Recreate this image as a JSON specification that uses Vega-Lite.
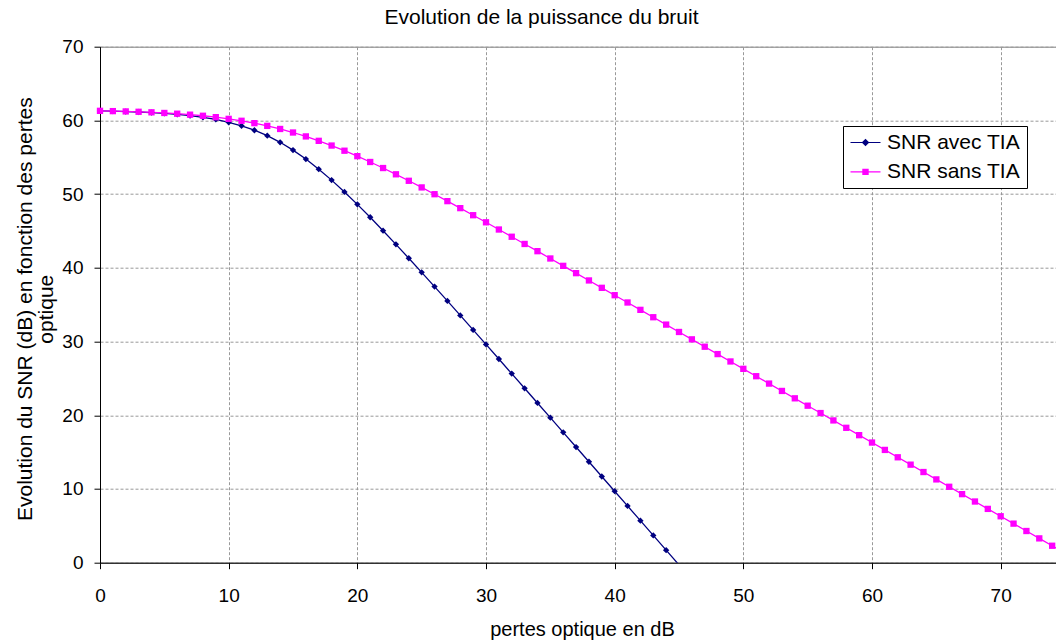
{
  "$schema": "https://vega.github.io/schema/vega-lite/v6.json",
  "width": 956,
  "height": 516,
  "autosize": {"type": "none"},
  "padding": {"left": 100, "top": 46.7, "right": 0, "bottom": 78.3},
  "background": "white",
  "title": {
    "text": "Evolution de la puissance du bruit",
    "anchor": "middle",
    "dx": -36.5,
    "offset": -7,
    "baseline": "alphabetic",
    "font": "Liberation Sans",
    "fontSize": 21,
    "fontWeight": "normal",
    "color": "black"
  },
  "config": {
    "view": {"stroke": "#808080", "strokeWidth": 1},
    "axis": {
      "domainColor": "black",
      "domainWidth": 1,
      "tickColor": "black",
      "tickWidth": 1,
      "tickSize": 6,
      "gridColor": "#999999",
      "gridDash": [3, 2],
      "gridWidth": 1,
      "labelColor": "black",
      "labelFont": "Liberation Sans",
      "labelFontSize": 19,
      "labelFlush": false,
      "labelOverlap": false,
      "titleColor": "black",
      "titleFont": "Liberation Sans",
      "titleFontWeight": "normal"
    }
  },
  "data": {
    "values": [
      {"serie": "SNR avec TIA", "pertes": 0, "snr": 61.29},
      {"serie": "SNR avec TIA", "pertes": 1, "snr": 61.25},
      {"serie": "SNR avec TIA", "pertes": 2, "snr": 61.2},
      {"serie": "SNR avec TIA", "pertes": 3, "snr": 61.14},
      {"serie": "SNR avec TIA", "pertes": 4, "snr": 61.06},
      {"serie": "SNR avec TIA", "pertes": 5, "snr": 60.95},
      {"serie": "SNR avec TIA", "pertes": 6, "snr": 60.82},
      {"serie": "SNR avec TIA", "pertes": 7, "snr": 60.64},
      {"serie": "SNR avec TIA", "pertes": 8, "snr": 60.42},
      {"serie": "SNR avec TIA", "pertes": 9, "snr": 60.13},
      {"serie": "SNR avec TIA", "pertes": 10, "snr": 59.75},
      {"serie": "SNR avec TIA", "pertes": 11, "snr": 59.27},
      {"serie": "SNR avec TIA", "pertes": 12, "snr": 58.67},
      {"serie": "SNR avec TIA", "pertes": 13, "snr": 57.93},
      {"serie": "SNR avec TIA", "pertes": 14, "snr": 57.03},
      {"serie": "SNR avec TIA", "pertes": 15, "snr": 55.97},
      {"serie": "SNR avec TIA", "pertes": 16, "snr": 54.76},
      {"serie": "SNR avec TIA", "pertes": 17, "snr": 53.39},
      {"serie": "SNR avec TIA", "pertes": 18, "snr": 51.9},
      {"serie": "SNR avec TIA", "pertes": 19, "snr": 50.3},
      {"serie": "SNR avec TIA", "pertes": 20, "snr": 48.61},
      {"serie": "SNR avec TIA", "pertes": 21, "snr": 46.86},
      {"serie": "SNR avec TIA", "pertes": 22, "snr": 45.04},
      {"serie": "SNR avec TIA", "pertes": 23, "snr": 43.19},
      {"serie": "SNR avec TIA", "pertes": 24, "snr": 41.3},
      {"serie": "SNR avec TIA", "pertes": 25, "snr": 39.39},
      {"serie": "SNR avec TIA", "pertes": 26, "snr": 37.46},
      {"serie": "SNR avec TIA", "pertes": 27, "snr": 35.51},
      {"serie": "SNR avec TIA", "pertes": 28, "snr": 33.55},
      {"serie": "SNR avec TIA", "pertes": 29, "snr": 31.58},
      {"serie": "SNR avec TIA", "pertes": 30, "snr": 29.61},
      {"serie": "SNR avec TIA", "pertes": 31, "snr": 27.63},
      {"serie": "SNR avec TIA", "pertes": 32, "snr": 25.65},
      {"serie": "SNR avec TIA", "pertes": 33, "snr": 23.66},
      {"serie": "SNR avec TIA", "pertes": 34, "snr": 21.67},
      {"serie": "SNR avec TIA", "pertes": 35, "snr": 19.68},
      {"serie": "SNR avec TIA", "pertes": 36, "snr": 17.68},
      {"serie": "SNR avec TIA", "pertes": 37, "snr": 15.69},
      {"serie": "SNR avec TIA", "pertes": 38, "snr": 13.69},
      {"serie": "SNR avec TIA", "pertes": 39, "snr": 11.69},
      {"serie": "SNR avec TIA", "pertes": 40, "snr": 9.7},
      {"serie": "SNR avec TIA", "pertes": 41, "snr": 7.7},
      {"serie": "SNR avec TIA", "pertes": 42, "snr": 5.7},
      {"serie": "SNR avec TIA", "pertes": 43, "snr": 3.7},
      {"serie": "SNR avec TIA", "pertes": 44, "snr": 1.7},
      {"serie": "SNR avec TIA", "pertes": 45, "snr": -0.3},
      {"serie": "SNR sans TIA", "pertes": 0, "snr": 61.3},
      {"serie": "SNR sans TIA", "pertes": 1, "snr": 61.26},
      {"serie": "SNR sans TIA", "pertes": 2, "snr": 61.22},
      {"serie": "SNR sans TIA", "pertes": 3, "snr": 61.17},
      {"serie": "SNR sans TIA", "pertes": 4, "snr": 61.1},
      {"serie": "SNR sans TIA", "pertes": 5, "snr": 61.01},
      {"serie": "SNR sans TIA", "pertes": 6, "snr": 60.91},
      {"serie": "SNR sans TIA", "pertes": 7, "snr": 60.78},
      {"serie": "SNR sans TIA", "pertes": 8, "snr": 60.63},
      {"serie": "SNR sans TIA", "pertes": 9, "snr": 60.44},
      {"serie": "SNR sans TIA", "pertes": 10, "snr": 60.21},
      {"serie": "SNR sans TIA", "pertes": 11, "snr": 59.95},
      {"serie": "SNR sans TIA", "pertes": 12, "snr": 59.63},
      {"serie": "SNR sans TIA", "pertes": 13, "snr": 59.26},
      {"serie": "SNR sans TIA", "pertes": 14, "snr": 58.84},
      {"serie": "SNR sans TIA", "pertes": 15, "snr": 58.36},
      {"serie": "SNR sans TIA", "pertes": 16, "snr": 57.83},
      {"serie": "SNR sans TIA", "pertes": 17, "snr": 57.23},
      {"serie": "SNR sans TIA", "pertes": 18, "snr": 56.59},
      {"serie": "SNR sans TIA", "pertes": 19, "snr": 55.89},
      {"serie": "SNR sans TIA", "pertes": 20, "snr": 55.15},
      {"serie": "SNR sans TIA", "pertes": 21, "snr": 54.36},
      {"serie": "SNR sans TIA", "pertes": 22, "snr": 53.54},
      {"serie": "SNR sans TIA", "pertes": 23, "snr": 52.69},
      {"serie": "SNR sans TIA", "pertes": 24, "snr": 51.81},
      {"serie": "SNR sans TIA", "pertes": 25, "snr": 50.91},
      {"serie": "SNR sans TIA", "pertes": 26, "snr": 49.99},
      {"serie": "SNR sans TIA", "pertes": 27, "snr": 49.05},
      {"serie": "SNR sans TIA", "pertes": 28, "snr": 48.1},
      {"serie": "SNR sans TIA", "pertes": 29, "snr": 47.14},
      {"serie": "SNR sans TIA", "pertes": 30, "snr": 46.18},
      {"serie": "SNR sans TIA", "pertes": 31, "snr": 45.2},
      {"serie": "SNR sans TIA", "pertes": 32, "snr": 44.22},
      {"serie": "SNR sans TIA", "pertes": 33, "snr": 43.24},
      {"serie": "SNR sans TIA", "pertes": 34, "snr": 42.26},
      {"serie": "SNR sans TIA", "pertes": 35, "snr": 41.27},
      {"serie": "SNR sans TIA", "pertes": 36, "snr": 40.27},
      {"serie": "SNR sans TIA", "pertes": 37, "snr": 39.28},
      {"serie": "SNR sans TIA", "pertes": 38, "snr": 38.29},
      {"serie": "SNR sans TIA", "pertes": 39, "snr": 37.29},
      {"serie": "SNR sans TIA", "pertes": 40, "snr": 36.29},
      {"serie": "SNR sans TIA", "pertes": 41, "snr": 35.3},
      {"serie": "SNR sans TIA", "pertes": 42, "snr": 34.3},
      {"serie": "SNR sans TIA", "pertes": 43, "snr": 33.3},
      {"serie": "SNR sans TIA", "pertes": 44, "snr": 32.3},
      {"serie": "SNR sans TIA", "pertes": 45, "snr": 31.3},
      {"serie": "SNR sans TIA", "pertes": 46, "snr": 30.3},
      {"serie": "SNR sans TIA", "pertes": 47, "snr": 29.3},
      {"serie": "SNR sans TIA", "pertes": 48, "snr": 28.3},
      {"serie": "SNR sans TIA", "pertes": 49, "snr": 27.3},
      {"serie": "SNR sans TIA", "pertes": 50, "snr": 26.3},
      {"serie": "SNR sans TIA", "pertes": 51, "snr": 25.3},
      {"serie": "SNR sans TIA", "pertes": 52, "snr": 24.3},
      {"serie": "SNR sans TIA", "pertes": 53, "snr": 23.3},
      {"serie": "SNR sans TIA", "pertes": 54, "snr": 22.3},
      {"serie": "SNR sans TIA", "pertes": 55, "snr": 21.3},
      {"serie": "SNR sans TIA", "pertes": 56, "snr": 20.3},
      {"serie": "SNR sans TIA", "pertes": 57, "snr": 19.3},
      {"serie": "SNR sans TIA", "pertes": 58, "snr": 18.3},
      {"serie": "SNR sans TIA", "pertes": 59, "snr": 17.3},
      {"serie": "SNR sans TIA", "pertes": 60, "snr": 16.3},
      {"serie": "SNR sans TIA", "pertes": 61, "snr": 15.3},
      {"serie": "SNR sans TIA", "pertes": 62, "snr": 14.3},
      {"serie": "SNR sans TIA", "pertes": 63, "snr": 13.3},
      {"serie": "SNR sans TIA", "pertes": 64, "snr": 12.3},
      {"serie": "SNR sans TIA", "pertes": 65, "snr": 11.3},
      {"serie": "SNR sans TIA", "pertes": 66, "snr": 10.3},
      {"serie": "SNR sans TIA", "pertes": 67, "snr": 9.3},
      {"serie": "SNR sans TIA", "pertes": 68, "snr": 8.3},
      {"serie": "SNR sans TIA", "pertes": 69, "snr": 7.3},
      {"serie": "SNR sans TIA", "pertes": 70, "snr": 6.3},
      {"serie": "SNR sans TIA", "pertes": 71, "snr": 5.3},
      {"serie": "SNR sans TIA", "pertes": 72, "snr": 4.3},
      {"serie": "SNR sans TIA", "pertes": 73, "snr": 3.3},
      {"serie": "SNR sans TIA", "pertes": 74, "snr": 2.3},
      {"serie": "SNR sans TIA", "pertes": 75, "snr": 1.3}
    ]
  },
  "layer": [
    {
      "mark": {"type": "line", "strokeWidth": 1.3, "clip": true},
      "encoding": {
        "x": {
          "field": "pertes", "type": "quantitative",
          "scale": {"domain": [0, 74.3], "nice": false, "zero": false},
          "axis": {
            "values": [0, 10, 20, 30, 40, 50, 60, 70],
            "title": "pertes optique en dB",
            "titleFontSize": 20,
            "titleAlign": "center",
            "titleBaseline": "alphabetic",
            "titleX": 482,
            "titleY": 72.3,
            "labelPadding": 17.5
          }
        },
        "y": {
          "field": "snr", "type": "quantitative",
          "scale": {"domain": [0, 70], "nice": false},
          "axis": {
            "values": [0, 10, 20, 30, 40, 50, 60, 70],
            "title": ["Evolution du SNR (dB) en fonction des pertes", "optique"],
            "titleFontSize": 21,
            "titleAngle": 270,
            "titleAlign": "center",
            "titleBaseline": "alphabetic",
            "titleLineHeight": 21,
            "titleX": -68.7,
            "titleY": 262,
            "labelPadding": 11
          }
        },
        "color": {
          "field": "serie", "type": "nominal",
          "scale": {"domain": ["SNR avec TIA", "SNR sans TIA"], "range": ["#000080", "#FF00FF"]},
          "legend": null
        }
      }
    },
    {
      "transform": [{"filter": "datum.snr >= 0 && datum.pertes <= 74.3"}],
      "mark": {"type": "point", "filled": true, "size": 40, "opacity": 1},
      "encoding": {
        "x": {"field": "pertes", "type": "quantitative"},
        "y": {"field": "snr", "type": "quantitative"},
        "color": {"field": "serie", "type": "nominal", "legend": null},
        "shape": {
          "field": "serie", "type": "nominal",
          "scale": {"domain": ["SNR avec TIA", "SNR sans TIA"], "range": ["diamond", "square"]},
          "legend": null
        }
      }
    },
    {
      "transform": [{"filter": "datum.pertes < 0"}],
      "mark": {"type": "point", "filled": true, "size": 400, "opacity": 1},
      "encoding": {
        "x": {"field": "pertes", "type": "quantitative"},
        "y": {"field": "snr", "type": "quantitative"},
        "color": {
          "field": "serie", "type": "nominal",
          "legend": {
            "title": null, "orient": "none", "legendX": 743, "legendY": 79.3,
            "padding": 6, "strokeColor": "black", "fillColor": "white",
            "labelFont": "Liberation Sans", "labelFontSize": 21, "labelColor": "black",
            "labelOffset": 17, "rowPadding": 7.4, "labelLimit": 300,
            "symbolSize": 400, "symbolStrokeWidth": 0, "symbolOpacity": 1
          }
        },
        "shape": {
          "field": "serie", "type": "nominal",
          "scale": {
            "domain": ["SNR avec TIA", "SNR sans TIA"],
            "range": [
              "M-0.9,-0.06L2.1,-0.06L2.1,0.06L-0.9,0.06Z M0.6,-0.38L0.98,0L0.6,0.38L0.22,0Z",
              "M-0.9,-0.06L2.1,-0.06L2.1,0.06L-0.9,0.06Z M0.28,-0.32L0.92,-0.32L0.92,0.32L0.28,0.32Z"
            ]
          },
          "legend": {
            "title": null, "orient": "none", "legendX": 743, "legendY": 79.3,
            "padding": 6, "strokeColor": "black", "fillColor": "white",
            "labelFont": "Liberation Sans", "labelFontSize": 21, "labelColor": "black",
            "labelOffset": 17, "rowPadding": 7.4, "labelLimit": 300,
            "symbolSize": 400, "symbolStrokeWidth": 0, "symbolOpacity": 1
          }
        }
      }
    }
  ],
  "resolve": {
    "scale": {"shape": "independent"},
    "legend": {"color": "independent", "shape": "independent"}
  }
}
